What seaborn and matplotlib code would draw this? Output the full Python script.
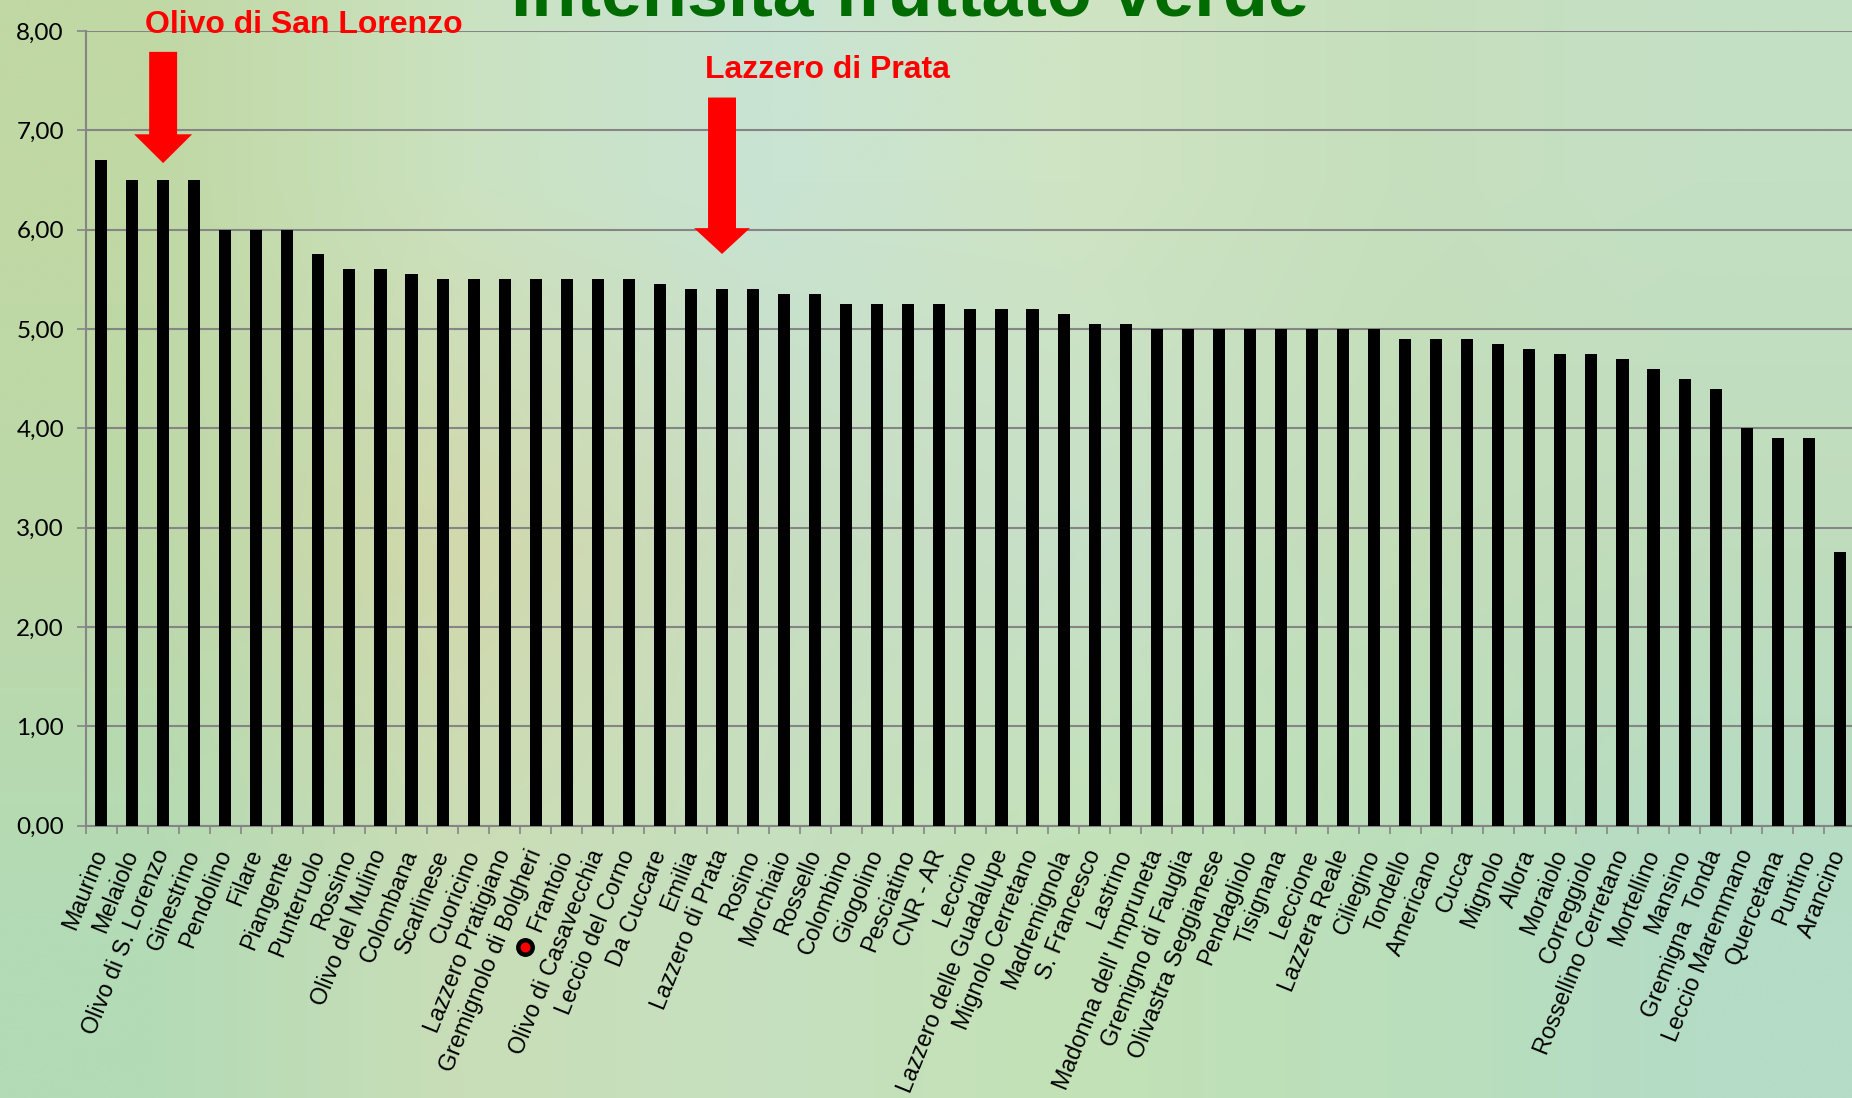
import numpy as np
import pandas as pd
import matplotlib
matplotlib.use("Agg")
import matplotlib.pyplot as plt
import seaborn as sns
from matplotlib.patches import FancyArrow
from matplotlib.transforms import blended_transform_factory
from matplotlib.colors import to_rgb

# ---------------- data ----------------
cultivars = [
    "Maurino", "Melaiolo", "Olivo di S. Lorenzo", "Ginestrino", "Pendolino",
    "Filare", "Piangente", "Punteruolo", "Rossino", "Olivo del Mulino",
    "Colombana", "Scarlinese", "Cuoricino", "Lazzero Pratigiano",
    "Gremignolo di Bolgheri", "Frantoio", "Olivo di Casavecchia",
    "Leccio del Corno", "Da Cuccare", "Emilia", "Lazzero di Prata", "Rosino",
    "Morchiaio", "Rossello", "Colombino", "Giogolino", "Pesciatino",
    "CNR - AR", "Leccino", "Lazzero delle Guadalupe", "Mignolo Cerretano",
    "Madremignola", "S. Francesco", "Lastrino", "Madonna dell' Impruneta",
    "Gremigno di Fauglia", "Olivastra Seggianese", "Pendagliolo", "Tisignana",
    "Leccione", "Lazzera Reale", "Ciliegino", "Tondello", "Americano", "Cucca",
    "Mignolo", "Allora", "Moraiolo", "Correggiolo", "Rossellino Cerretano",
    "Mortellino", "Mansino", "Gremigna  Tonda", "Leccio Maremmano",
    "Quercetana", "Puntino", "Arancino",
]
intensity = [
    6.70, 6.50, 6.50, 6.50, 6.00,
    6.00, 6.00, 5.75, 5.60, 5.60,
    5.55, 5.50, 5.50, 5.50,
    5.50, 5.50, 5.50,
    5.50, 5.45, 5.40, 5.40, 5.40,
    5.35, 5.35, 5.25, 5.25, 5.25,
    5.25, 5.20, 5.20, 5.20,
    5.15, 5.05, 5.05, 5.00,
    5.00, 5.00, 5.00, 5.00,
    5.00, 5.00, 5.00, 4.90, 4.90, 4.90,
    4.85, 4.80, 4.75, 4.75, 4.70,
    4.60, 4.50, 4.40, 4.00,
    3.90, 3.90, 2.75,
]
y_ticks = [0, 1, 2, 3, 4, 5, 6, 7, 8]
y_tick_labels = ["0,00", "1,00", "2,00", "3,00", "4,00", "5,00", "6,00", "7,00", "8,00"]

title = "Intensità fruttato verde"
callout_1_text = "Olivo di San Lorenzo"
callout_1_cat = "Olivo di S. Lorenzo"
callout_2_text = "Lazzero di Prata"
callout_2_cat = "Lazzero di Prata"
marked_cat = "Gremignolo di Bolgheri"

# background colour anchors (top -> bottom rows, left -> right)
bg_grid = [
    ["#c0d8a4", "#cbe2c0", "#c9e4d4", "#cfe4c2", "#c6dfbd", "#c4e0c4"],
    ["#bdd8a9", "#d2d8ac", "#c8ddc0", "#c6e0c8", "#c3ddb8", "#bfdcbc"],
    ["#b3dbb6", "#c9deb8", "#c6e0bf", "#c3e2b6", "#badfbb", "#b4dcc6"],
]

# ---------------- figure ----------------
sns.set_theme(style="white")
plt.rcParams["font.family"] = ["Liberation Sans", "DejaVu Sans"]

W, H = 1852, 1098
fig = plt.figure(figsize=(W / 100, H / 100), dpi=100)

bg = fig.add_axes([0, 0, 1, 1], zorder=-10)
bg_img = np.array([[to_rgb(c) for c in row] for row in bg_grid])
bg.imshow(bg_img, aspect="auto", interpolation="bilinear", extent=[0, 1, 0, 1])
bg.set_axis_off()

x0, y0_px, step, ytop_px = 85.5, 825.5, 31.05, 31.0
ax = fig.add_axes([x0 / W, 1 - y0_px / H, len(cultivars) * step / W, (y0_px - ytop_px) / H])
ax.patch.set_alpha(0)

df = pd.DataFrame({"cultivar": cultivars, "intensity": intensity})
sns.barplot(data=df, x="cultivar", y="intensity", order=cultivars, color="black",
            saturation=1, width=0.39, linewidth=0, ax=ax, zorder=3)

grey = "#858585"
ax.set_xlim(-0.5, len(cultivars) - 0.5)
ax.set_ylim(0, 8)
ax.set_xlabel("")
ax.set_ylabel("")
ax.set_yticks(y_ticks)
ax.set_yticklabels(y_tick_labels, fontfamily=["Lato", "DejaVu Sans"], fontsize=17.5)
ax.yaxis.grid(True, color=grey, linewidth=1.5)
ax.xaxis.grid(False)
ax.set_axisbelow(True)
for s in ["top", "right"]:
    ax.spines[s].set_visible(False)
for s in ["left", "bottom"]:
    ax.spines[s].set_color(grey)
    ax.spines[s].set_linewidth(1.5)

ax.tick_params(axis="y", left=True, length=6.5, width=1.2, color=grey, pad=9,
               labelcolor="black")
ax.set_xticks(range(len(cultivars)))
ax.set_xticklabels(cultivars, rotation=68, ha="right", va="center",
                   rotation_mode="anchor", fontsize=16.8)
ax.tick_params(axis="x", which="major", bottom=True, length=0, pad=18, labelcolor="black")
ax.set_xticks(np.arange(-0.5, len(cultivars), 1.0), minor=True)
ax.tick_params(axis="x", which="minor", bottom=True, length=5.5, width=1.2, color=grey)

# title (partly cut off by the top edge as in the reference)
fig.text((508 + 1311) / 2 / W, 1 - 15 / H, title, ha="center", va="baseline",
         fontsize=53, fontweight="bold", color="#006b00")

# callouts
i1 = cultivars.index(callout_1_cat)
ax.text(i1 - 0.58, 7.98, callout_1_text, ha="left", va="baseline", fontsize=23,
        fontweight="bold", color="#ff0000", clip_on=False, zorder=6)
ax.add_patch(FancyArrow(i1, 7.79, 0, 6.67 - 7.79, width=0.9, head_width=1.87,
                        head_length=0.29, length_includes_head=True,
                        color="#ff0000", linewidth=0, clip_on=False, zorder=6))

i2 = cultivars.index(callout_2_cat)
ax.text(i2 - 0.55, 7.53, callout_2_text, ha="left", va="baseline", fontsize=23,
        fontweight="bold", color="#ff0000", clip_on=False, zorder=6)
ax.add_patch(FancyArrow(i2, 7.33, 0, 5.755 - 7.33, width=0.9, head_width=1.8,
                        head_length=0.26, length_includes_head=True,
                        color="#ff0000", linewidth=0, clip_on=False, zorder=6))

# red dot marker next to the Gremignolo di Bolgheri label
im = cultivars.index(marked_cat)
tr = blended_transform_factory(ax.transData, ax.transAxes)
ax.plot([im - 0.35], [-0.153], transform=tr, marker="o", markersize=10.4,
        markerfacecolor="#ff0000", markeredgecolor="black", markeredgewidth=3.2,
        linestyle="none", clip_on=False, zorder=6)

fig.savefig("out.png", dpi=100)
